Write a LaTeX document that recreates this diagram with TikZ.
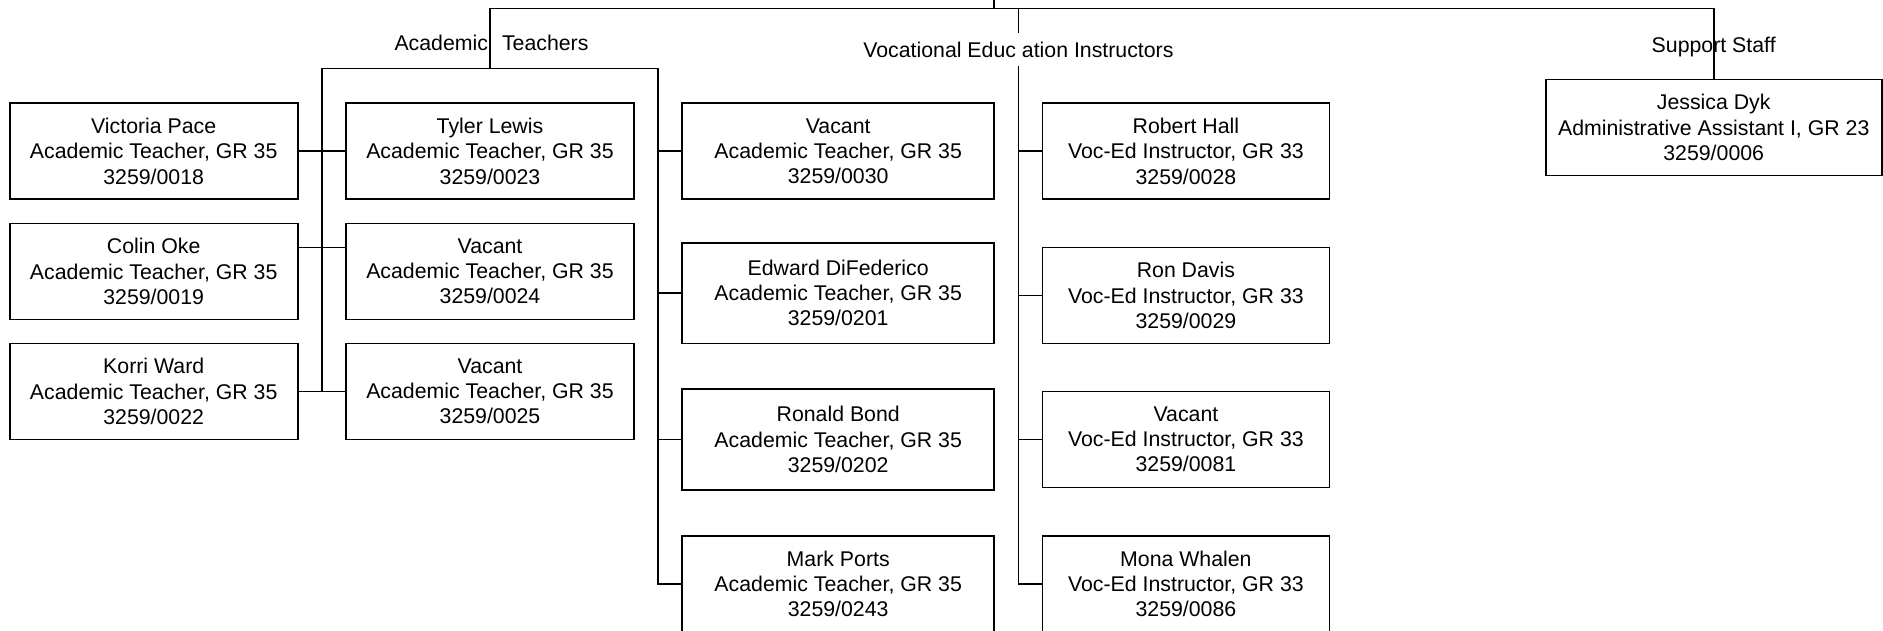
\documentclass[tikz,border=0pt]{standalone}
\usepackage{fontspec}
\setmainfont{Liberation Sans}
\begin{document}
\begin{tikzpicture}[x=1pt,y=-1pt,line width=1.8pt,
  post/.style={draw,rectangle,align=center,inner sep=0pt,minimum width=#1,minimum height=96pt,font=\fontsize{21.3}{25.2}\selectfont},
  grp/.style={anchor=base,inner sep=0pt,font=\fontsize{21.3}{25.2}\selectfont}]
  \useasboundingbox (0,0) rectangle (1883,630);
  \coordinate (head) at (994.3,0);
  \coordinate (acadj) at (490,8.4);
  \coordinate (vocj) at (1018.4,8.4);
  \coordinate (suppj) at (1713.7,8.4);
  \coordinate (acadbar) at (490,68.5);
  \coordinate (acl) at (321.8,68.5);
  \coordinate (acr) at (658.1,68.5);
  \node[post=288.2pt] (vpace) at (153.7,151.3) {Victoria Pace\\Academic Teacher, GR 35\\3259/0018};
  \node[post=288.2pt] (coke) at (153.7,271.4) {Colin Oke\\Academic Teacher, GR 35\\3259/0019};
  \node[post=288.2pt] (kward) at (153.7,391.5) {Korri Ward\\Academic Teacher, GR 35\\3259/0022};
  \node[post=288.2pt] (tlewis) at (490,151.3) {Tyler Lewis\\Academic Teacher, GR 35\\3259/0023};
  \node[post=288.2pt] (vac24) at (490,271.4) {Vacant\\Academic Teacher, GR 35\\3259/0024};
  \node[post=288.2pt] (vac25) at (490,391.5) {Vacant\\Academic Teacher, GR 35\\3259/0025};
  \node[post=312.2pt] (vac30) at (838.2,151.3) {Vacant\\Academic Teacher, GR 35\\3259/0030};
  \node[post=312.2pt,minimum height=100.8pt] (edf) at (838.2,293) {Edward DiFederico\\Academic Teacher, GR 35\\3259/0201};
  \node[post=312.2pt,minimum height=100.8pt] (rbond) at (838.2,439.5) {Ronald Bond\\Academic Teacher, GR 35\\3259/0202};
  \node[post=312.2pt] (mports) at (838.2,583.6) {Mark Ports\\Academic Teacher, GR 35\\3259/0243};
  \node[post=287pt] (rhall) at (1185.9,151.3) {Robert Hall\\Voc-Ed Instructor, GR 33\\3259/0028};
  \node[post=287pt] (rdavis) at (1185.9,295.4) {Ron Davis\\Voc-Ed Instructor, GR 33\\3259/0029};
  \node[post=287pt] (vac81) at (1185.9,439.5) {Vacant\\Voc-Ed Instructor, GR 33\\3259/0081};
  \node[post=287pt] (mwhalen) at (1185.9,583.6) {Mona Whalen\\Voc-Ed Instructor, GR 33\\3259/0086};
  \node[post=336.2pt] (jdyk) at (1713.7,127.5) {Jessica Dyk\\Administrative Assistant I, GR 23\\3259/0006};
  \node[grp] (acadlbl) at (491.5,50.5) {Academic\hspace{14pt}Teachers};
  \node[grp,inner ysep=8pt] (voclbl) at (1018.4,57) {Vocational Educ ation Instructors};
  \node[grp] (supplbl) at (1713.7,52) {Support Staff};
  % top level
  \draw (head) -- (head |- acadj);
  \draw (acadbar) -- (acadj) -- (suppj) -- (jdyk.north);
  % academic teachers
  \draw (kward.east -| acl) -- (acl) -- (acr) |- (mports.west);
  \draw (vpace.east) -- (tlewis.west);
  \draw ([yshift=24pt]coke.east) -- ([yshift=24pt]vac24.west);
  \draw (kward.east) -- (vac25.west);
  \draw (vac30.west -| acr) -- (vac30.west);
  \draw (edf.west -| acr) -- (edf.west);
  \draw (rbond.west -| acr) -- (rbond.west);
  % vocational education instructors
  \draw (vocj) -- (voclbl.north);
  \draw (voclbl.south) |- (mwhalen.west);
  \draw (rhall.west -| vocj) -- (rhall.west);
  \draw (rdavis.west -| vocj) -- (rdavis.west);
  \draw (vac81.west -| vocj) -- (vac81.west);
\end{tikzpicture}
\end{document}
